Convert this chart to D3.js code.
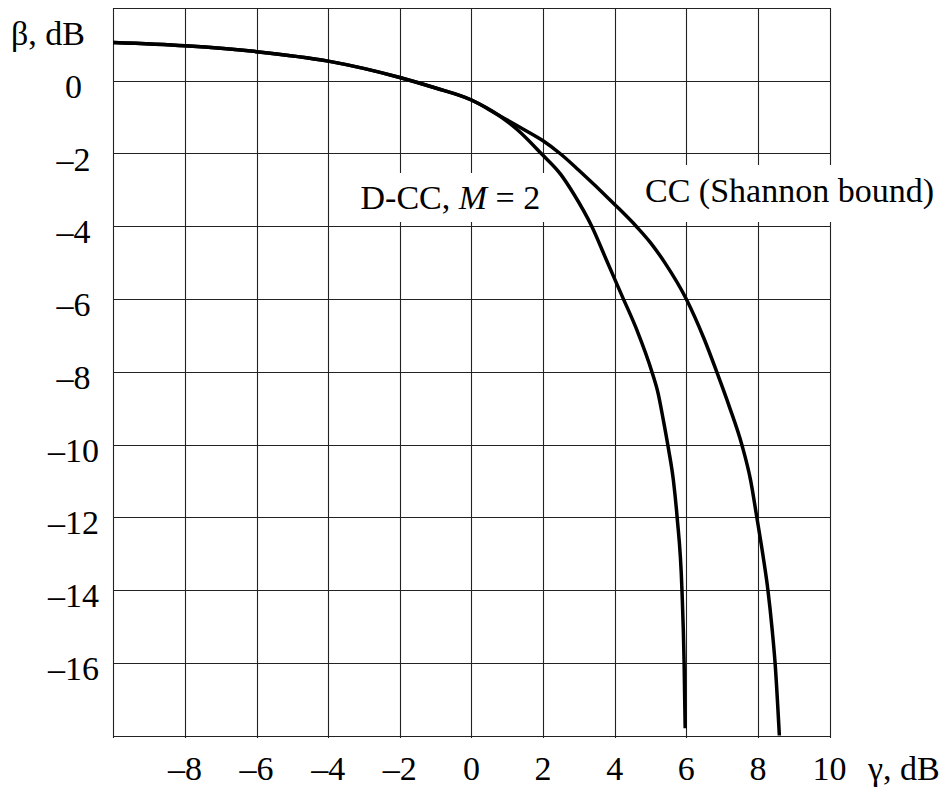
<!DOCTYPE html>
<html lang="en">
<head>
<meta charset="UTF-8"/>
<title>beta vs gamma, CC and D-CC</title>
<style>
  body { margin: 0; background: #fff; }
  svg text { font-family: "Liberation Serif", "Times New Roman", serif; font-size: 34px; fill: #000; }
</style>
<script src="https://d3js.org/d3.v7.min.js"></script>
</head>
<body>
<div id="chart"></div>
<script>
// x axis: gamma, dB
var xTicks = [-10, -8, -6, -4, -2, 0, 2, 4, 6, 8, 10];
var xTickLabels = ["", "–8", "–6", "–4", "–2", "0", "2", "4", "6", "8", "10"];
// y axis: beta, dB
var yTicks = [2, 0, -2, -4, -6, -8, -10, -12, -14, -16, -18];
var yTickLabels = ["", "0", "–2", "–4", "–6", "–8", "–10", "–12", "–14", "–16", ""];

// CC (Shannon bound)
var ccGamma = [-10, -8, -6, -4, -2, -1, 0, 0.75, 1.5, 2, 2.5, 3, 4, 4.62, 5, 5.4, 6, 6.5, 6.85, 7.2, 7.55, 7.8, 7.97, 8.15, 8.28, 8.4, 8.48, 8.6];
var ccBeta  = [1.05, 0.96, 0.8, 0.54, 0.09, -0.2, -0.53, -0.94, -1.36, -1.65, -2.02, -2.46, -3.4, -4.02, -4.45, -5.0, -6.0, -7.1, -8.0, -8.95, -10.0, -11.0, -12.0, -13.1, -14.0, -15.1, -16.0, -18.0];

// D-CC, M = 2 (same as CC up to the fork)
var dccGamma = [-10, -8, -6, -4, -2, -1, 0, 0.75, 1.3, 1.95, 2.5, 2.85, 3.36, 3.78, 4.2, 4.62, 5.04, 5.22, 5.36, 5.5, 5.64, 5.745, 5.88, 5.94, 5.97];
var dccBeta  = [1.05, 0.96, 0.8, 0.54, 0.09, -0.2, -0.53, -0.94, -1.36, -2.0, -2.58, -3.1, -4.0, -4.95, -5.9, -6.85, -8.0, -8.62, -9.33, -10.1, -10.98, -12.0, -14.0, -16.0, -17.8];

var W = 952, H = 787;
var pLeft = 113.3, pTop = 8, pRight = 829.5, pBottom = 735.5;

var x = d3.scaleLinear().domain([-10, 10]).range([pLeft, pRight]);
var y = d3.scaleLinear().domain([-18, 2]).range([pBottom, pTop]);

var svg = d3.select("#chart").append("svg")
  .attr("width", W)
  .attr("height", H);

// grid
var grid = svg.append("g").attr("stroke", "#222").attr("stroke-width", 1.1);
grid.selectAll("line.v")
  .data(xTicks)
  .enter()
  .append("line")
  .attr("class", "v")
  .attr("x1", function(d) { return Math.round(x(d)) + 0.5; })
  .attr("x2", function(d) { return Math.round(x(d)) + 0.5; })
  .attr("y1", pTop)
  .attr("y2", pBottom + 2.5);
grid.selectAll("line.h")
  .data(yTicks)
  .enter()
  .append("line")
  .attr("class", "h")
  .attr("y1", function(d) { return Math.round(y(d)) + 0.5; })
  .attr("y2", function(d) { return Math.round(y(d)) + 0.5; })
  .attr("x1", pLeft)
  .attr("x2", pRight + 0.5);

// label backgrounds (cover the grid)
svg.append("rect").attr("x", 352).attr("y", 173).attr("width", 197).attr("height", 49).attr("fill", "#fff");
svg.append("rect").attr("x", 641).attr("y", 165).attr("width", 304).attr("height", 57).attr("fill", "#fff");

// curves
var line = d3.line()
  .curve(d3.curveMonotoneX)
  .x(function(d) { return x(d[0]); })
  .y(function(d) { return y(d[1]); });

svg.append("path")
  .datum(d3.zip(ccGamma, ccBeta))
  .attr("d", line)
  .attr("fill", "none")
  .attr("stroke", "#000")
  .attr("stroke-width", 3.5)
  .attr("stroke-linejoin", "round");

svg.append("path")
  .datum(d3.zip(dccGamma, dccBeta))
  .attr("d", line)
  .attr("fill", "none")
  .attr("stroke", "#000")
  .attr("stroke-width", 3.5)
  .attr("stroke-linejoin", "round");

// tick labels
svg.selectAll("text.xt")
  .data(xTicks)
  .enter()
  .append("text")
  .attr("class", "xt")
  .attr("x", function(d) { return x(d); })
  .attr("y", pBottom + 44.5)
  .attr("text-anchor", "middle")
  .text(function(d, i) { return xTickLabels[i]; });

svg.selectAll("text.yt")
  .data(yTicks)
  .enter()
  .append("text")
  .attr("class", "yt")
  .attr("x", 73.5)
  .attr("y", function(d) { return y(d) + 17; })
  .attr("text-anchor", "middle")
  .text(function(d, i) { return yTickLabels[i]; });

// axis titles
svg.append("text").attr("x", 11).attr("y", 45).text("β, dB");
svg.append("text").attr("x", 868).attr("y", pBottom + 44.5).text("γ, dB");

// curve labels
var t1 = svg.append("text").attr("x", 360.5).attr("y", 208.5);
t1.append("tspan").text("D-CC, ");
t1.append("tspan").attr("font-style", "italic").text("M");
t1.append("tspan").text(" = 2");

svg.append("text").attr("x", 645).attr("y", 201.5).text("CC (Shannon bound)");
</script>
</body>
</html>
